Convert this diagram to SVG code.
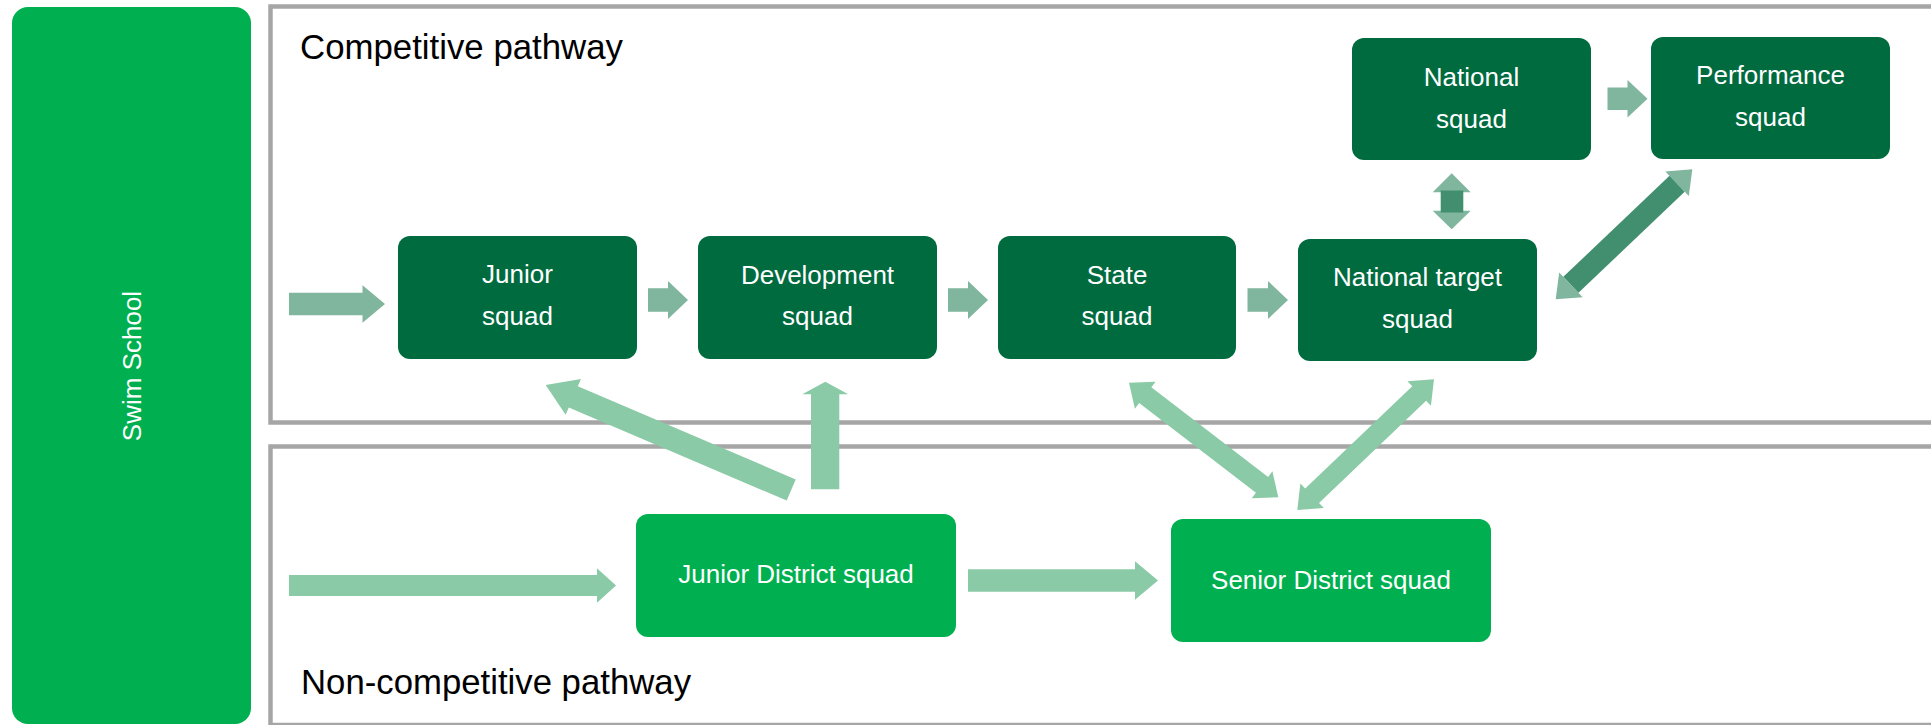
<svg xmlns="http://www.w3.org/2000/svg" width="1931" height="725" viewBox="0 0 1931 725">
<style>
.panel{fill:#FFFFFF;stroke:#A6A6A6;stroke-width:4.5}
.dark{fill:#006B3F}
.bright{fill:#00B050}
.ntxt{font-family:"Liberation Sans",Arial,sans-serif;font-size:26px;fill:#FFFFFF;text-anchor:middle}
.ptxt{font-family:"Liberation Sans",Arial,sans-serif;font-size:35px;fill:#000000}
.aTop{fill:#80B59E}
.aDark{fill:#428F6F}
.aBot{fill:#8ACAA6}
</style>
<rect x="0" y="0" width="1931" height="725" fill="#FFFFFF"/>

<g id="competitive-pathway">
<rect class="panel" x="270.5" y="6.5" width="1680" height="416"/>
<text class="ptxt" x="300" y="59" textLength="323" lengthAdjust="spacingAndGlyphs">Competitive pathway</text>
</g>
<g id="non-competitive-pathway">
<rect class="panel" x="270.5" y="446.5" width="1680" height="278.5"/>
<text class="ptxt" x="301" y="694" textLength="390" lengthAdjust="spacingAndGlyphs">Non-competitive pathway</text>
</g>

<g id="swim-school">
<rect class="bright" x="12" y="7" width="239" height="717" rx="16"/>
<text class="ntxt" transform="translate(141,366) rotate(-90)" x="0" y="0">Swim School</text>
</g>

<g id="connectors">
<polygon class="aTop" points="289,292.7 362.5,292.7 362.5,285.3 385,304 362.5,322.7 362.5,315.3 289,315.3"/>
<polygon class="aTop" points="648,288.2 668,288.2 668,281 688,300 668,319 668,311.8 648,311.8"/>
<polygon class="aTop" points="948,288.2 968,288.2 968,281 988,300 968,319 968,311.8 948,311.8"/>
<polygon class="aTop" points="1247.5,288.2 1268,288.2 1268,281 1288,300 1268,319 1268,311.8 1247.5,311.8"/>
<polygon class="aTop" points="1607.5,87.5 1627.5,87.5 1627.5,80 1647.5,98.7 1627.5,117.4 1627.5,109.9 1607.5,109.9"/>
<polygon class="aTop" points="1451.7,173.3 1470.7,192.3 1432.7,192.3"/>
<polygon class="aTop" points="1451.7,229.3 1470.7,210.7 1432.7,210.7"/>
<rect class="aDark" x="1440.7" y="190.5" width="22.6" height="22"/>
<polygon class="aTop" points="1692.3,169.3 1688.81,196.09 1665.37,171.47"/>
<polygon class="aTop" points="1555.7,299.3 1582.63,297.13 1559.19,272.51"/>
<polygon class="aDark" points="1684.67,191.75 1578.49,292.79 1563.33,276.85 1669.51,175.81"/>
<polygon class="aBot" points="289,575 597,575 597,568.3 616,585.5 597,602.7 597,596 289,596"/>
<polygon class="aBot" points="968,569.3 1135,569.3 1135,561.3 1158,580.5 1135,599.7 1135,591.7 968,591.7"/>
<polygon class="aBot" points="811,489.3 811,394.3 802.3,394.3 825.3,381.7 848.3,394.3 839.3,394.3 839.3,489.3"/>
<polygon class="aBot" points="795.7,479.4 577.8,386.2 581,378.9 545.7,385 565.6,414.7 568.8,407.4 786.7,500.6"/>
<polygon class="aBot" points="1129,382.7 1134.9,408.67 1139.17,403.11 1255.95,492.75 1251.69,498.31 1278.3,497.3 1272.39,471.33 1268.13,476.89 1151.35,387.25 1155.61,381.69"/>
<polygon class="aBot" points="1434,379.3 1430.93,405.76 1426.09,400.7 1319.03,503.06 1323.87,508.12 1297.3,510 1300.37,483.54 1305.21,488.6 1412.27,386.24 1407.43,381.18"/>
</g>

<g id="junior-squad">
<rect class="dark" x="398" y="236" width="239" height="123" rx="12"/>
<text class="ntxt" x="517.5" y="283">Junior</text>
<text class="ntxt" x="517.5" y="325">squad</text>
</g>
<g id="development-squad">
<rect class="dark" x="698" y="236" width="239" height="123" rx="12"/>
<text class="ntxt" x="817.5" y="284">Development</text>
<text class="ntxt" x="817.5" y="325">squad</text>
</g>
<g id="state-squad">
<rect class="dark" x="998" y="236" width="238" height="123" rx="12"/>
<text class="ntxt" x="1117" y="284">State</text>
<text class="ntxt" x="1117" y="325">squad</text>
</g>
<g id="national-target-squad">
<rect class="dark" x="1298" y="239" width="239" height="122" rx="12"/>
<text class="ntxt" x="1417.5" y="286">National target</text>
<text class="ntxt" x="1417.5" y="328">squad</text>
</g>
<g id="national-squad">
<rect class="dark" x="1352" y="38" width="239" height="122" rx="12"/>
<text class="ntxt" x="1471.5" y="86">National</text>
<text class="ntxt" x="1471.5" y="128">squad</text>
</g>
<g id="performance-squad">
<rect class="dark" x="1651" y="37" width="239" height="122" rx="12"/>
<text class="ntxt" x="1770.5" y="84">Performance</text>
<text class="ntxt" x="1770.5" y="126">squad</text>
</g>
<g id="junior-district-squad">
<rect class="bright" x="636" y="514" width="320" height="123" rx="12"/>
<text class="ntxt" x="796" y="583">Junior District squad</text>
</g>
<g id="senior-district-squad">
<rect class="bright" x="1171" y="519" width="320" height="123" rx="12"/>
<text class="ntxt" x="1331" y="589">Senior District squad</text>
</g>
</svg>
